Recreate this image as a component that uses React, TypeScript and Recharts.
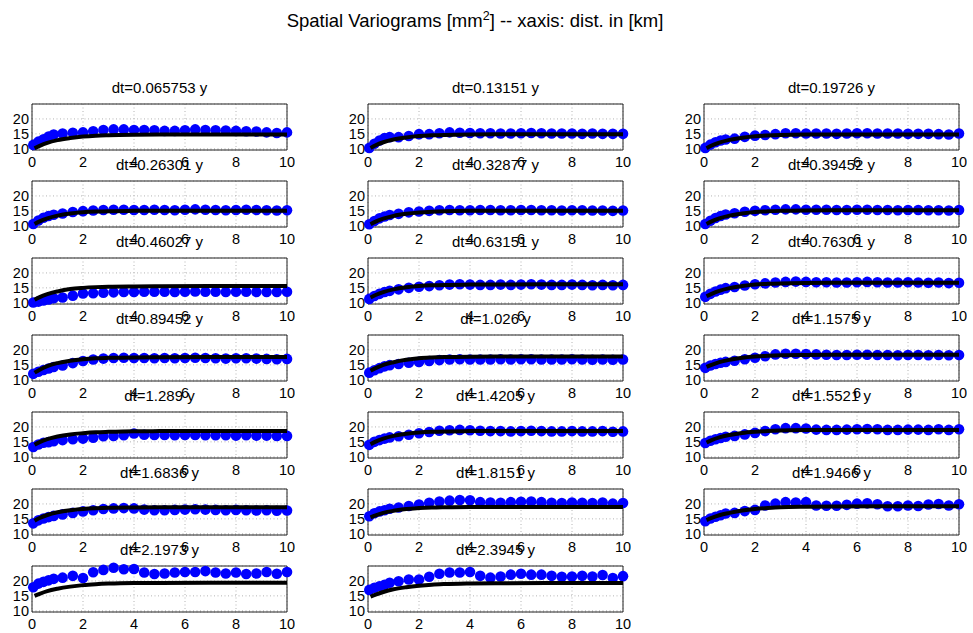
import React from 'react';
import {
  ComposedChart,
  Scatter,
  Line,
  XAxis,
  YAxis,
  CartesianGrid,
  ReferenceArea,
} from 'recharts';

// Lag distances (km) of the empirical variogram bins
const distKm = [
  0.05, 0.25, 0.45, 0.65, 0.85, 1.2, 1.6, 2.0, 2.4, 2.8, 3.2, 3.6, 4.0, 4.4,
  4.8, 5.2, 5.6, 6.0, 6.4, 6.8, 7.2, 7.6, 8.0, 8.4, 8.8, 9.2, 9.6, 10.0,
];

// Distances at which the fitted model curve is sampled
const modelDistKm = [0.1, 0.3, 0.6, 1.0, 1.5, 2.0, 2.5, 3.0, 4.0, 5.0, 7.0, 10.0];

const panelTitles = [
  'dt=0.065753 y', 'dt=0.13151 y', 'dt=0.19726 y',
  'dt=0.26301 y', 'dt=0.32877 y', 'dt=0.39452 y',
  'dt=0.46027 y', 'dt=0.63151 y', 'dt=0.76301 y',
  'dt=0.89452 y', 'dt=1.026 y', 'dt=1.1575 y',
  'dt=1.289 y', 'dt=1.4205 y', 'dt=1.5521 y',
  'dt=1.6836 y', 'dt=1.8151 y', 'dt=1.9466 y',
  'dt=2.1973 y', 'dt=2.3945 y',
];

const xTicks = [0, 2, 4, 6, 8, 10];
const yTicks = [10, 15, 20];

// Empirical semivariance [mm^2] per time lag
const g01 = [11.3, 12.4, 13.2, 14.1, 14.8, 15.1, 15.4, 15.5, 15.9, 16.3, 16.5, 16.5, 16.3, 16.3, 16.2, 16.0, 16.0, 16.2, 16.5, 16.3, 16.2, 16.1, 16.0, 15.9, 15.8, 15.5, 15.3, 15.5];
const g02 = [10.3, 11.7, 12.8, 13.6, 13.9, 13.9, 14.3, 14.9, 14.9, 15.2, 15.5, 15.4, 15.3, 15.2, 15.2, 15.1, 15.1, 15.2, 15.3, 15.2, 15.1, 15.1, 15.1, 15.0, 15.1, 15.0, 15.0, 15.0];
const g03 = [10.3, 11.4, 12.2, 12.8, 13.1, 13.4, 14.0, 14.4, 14.6, 14.9, 15.2, 15.2, 15.1, 15.1, 15.1, 15.0, 15.1, 15.2, 15.2, 15.1, 15.1, 15.1, 15.0, 15.0, 15.0, 14.9, 14.8, 15.1];
const g04 = [10.6, 11.8, 12.7, 13.3, 13.7, 14.1, 14.6, 14.9, 15.1, 15.3, 15.4, 15.4, 15.3, 15.3, 15.4, 15.3, 15.2, 15.4, 15.5, 15.4, 15.3, 15.2, 15.3, 15.4, 15.3, 15.2, 15.1, 15.2];
const g05 = [10.5, 11.6, 12.5, 13.1, 13.6, 14.0, 14.5, 14.8, 15.0, 15.2, 15.3, 15.2, 15.2, 15.3, 15.3, 15.2, 15.2, 15.3, 15.3, 15.2, 15.2, 15.1, 15.2, 15.2, 15.1, 15.1, 15.0, 15.1];
const g06 = [10.6, 11.7, 12.6, 13.3, 13.8, 14.2, 14.7, 15.0, 15.2, 15.4, 15.5, 15.5, 15.4, 15.4, 15.4, 15.3, 15.3, 15.4, 15.4, 15.3, 15.3, 15.2, 15.3, 15.3, 15.2, 15.2, 15.1, 15.3];
const g07 = [10.1, 10.4, 10.8, 11.1, 11.5, 11.8, 12.4, 13.1, 13.2, 13.4, 13.5, 13.6, 13.6, 13.7, 13.7, 13.7, 13.6, 13.7, 13.8, 13.7, 13.7, 13.6, 13.7, 13.7, 13.6, 13.6, 13.6, 13.7];
const g08 = [11.3, 12.3, 13.0, 13.6, 14.0, 14.5, 15.0, 15.4, 15.6, 15.9, 16.1, 16.2, 16.1, 16.0, 16.0, 16.1, 16.0, 16.1, 16.2, 16.1, 16.0, 16.0, 16.1, 16.0, 15.9, 16.0, 15.9, 16.0];
const g09 = [12.0, 13.0, 13.8, 14.4, 14.9, 15.3, 15.8, 16.2, 16.5, 16.8, 17.0, 17.1, 17.0, 16.9, 16.9, 16.8, 16.8, 16.9, 17.0, 16.9, 16.8, 16.8, 16.9, 16.8, 16.7, 16.8, 16.6, 16.7];
const g10 = [12.0, 12.7, 13.3, 13.8, 14.3, 14.8, 15.6, 16.3, 16.8, 17.1, 17.3, 17.4, 17.3, 17.3, 17.2, 17.3, 17.2, 17.3, 17.4, 17.3, 17.2, 17.1, 17.2, 17.2, 17.1, 17.0, 16.9, 17.0];
const g11 = [12.4, 13.2, 13.9, 14.5, 14.9, 15.3, 15.7, 16.0, 16.3, 16.6, 16.8, 16.9, 16.8, 16.8, 16.8, 16.9, 16.8, 16.9, 16.9, 16.8, 16.8, 16.8, 16.9, 16.8, 16.7, 16.8, 16.7, 16.8];
const g12 = [14.0, 14.8, 15.3, 15.7, 16.0, 16.4, 16.9, 17.4, 17.9, 18.5, 18.7, 18.7, 18.6, 18.5, 18.4, 18.3, 18.3, 18.4, 18.4, 18.3, 18.3, 18.2, 18.3, 18.3, 18.2, 18.3, 18.2, 18.3];
const g13 = [13.3, 14.1, 14.7, 14.9, 15.2, 15.6, 15.9, 16.1, 16.4, 16.9, 17.0, 17.2, 17.8, 17.4, 17.3, 17.3, 17.2, 17.3, 17.3, 17.2, 17.2, 17.2, 17.1, 17.2, 17.1, 17.1, 17.0, 17.0];
const g14 = [14.0, 15.0, 15.6, 16.1, 16.5, 16.9, 17.4, 17.9, 18.3, 18.7, 18.9, 19.0, 18.9, 18.7, 18.6, 18.6, 18.5, 18.6, 18.7, 18.6, 18.5, 18.5, 18.6, 18.5, 18.5, 18.6, 18.4, 18.5];
const g15 = [14.6, 15.4, 15.9, 16.3, 16.7, 17.0, 17.5, 18.0, 18.6, 19.2, 19.6, 19.6, 19.5, 19.1, 19.0, 19.0, 19.1, 19.2, 19.3, 19.2, 19.0, 19.0, 19.1, 19.1, 19.0, 19.2, 19.0, 19.2];
const g16 = [13.5, 14.5, 15.1, 15.6, 16.0, 16.5, 17.0, 17.5, 17.9, 18.3, 18.5, 18.6, 18.5, 18.1, 17.9, 17.9, 18.0, 18.1, 18.2, 18.1, 18.0, 17.9, 18.0, 17.9, 17.8, 17.9, 17.7, 17.8];
const g17 = [15.9, 16.9, 17.5, 17.9, 18.4, 18.8, 19.3, 19.8, 20.4, 20.8, 21.1, 21.3, 21.2, 20.6, 20.5, 20.4, 20.6, 20.7, 20.8, 20.6, 20.4, 20.3, 20.5, 20.4, 20.3, 20.5, 20.1, 20.3];
const g18 = [14.2, 15.1, 15.7, 16.2, 16.8, 17.0, 17.6, 18.0, 19.5, 20.1, 20.6, 20.5, 20.6, 19.5, 19.4, 19.4, 19.7, 20.1, 20.2, 19.9, 19.2, 19.2, 19.5, 19.3, 19.8, 20.0, 19.5, 19.9];
const g19 = [17.9, 19.1, 19.7, 20.2, 20.7, 21.1, 21.7, 21.0, 22.9, 23.7, 24.4, 23.9, 24.0, 22.8, 22.3, 22.5, 22.8, 23.0, 23.0, 23.3, 22.8, 22.5, 22.8, 22.3, 22.5, 23.0, 22.4, 23.0];
const g20 = [17.0, 17.7, 18.2, 18.7, 19.4, 19.9, 20.5, 20.5, 21.4, 22.4, 22.8, 22.8, 23.0, 21.7, 21.1, 21.5, 22.1, 22.4, 22.1, 22.1, 21.7, 21.4, 21.5, 21.7, 21.5, 22.0, 21.0, 21.6];

// Fitted variogram model, sampled at modelDistKm
const m01 = [10.2, 11.0, 12.0, 12.9, 13.6, 14.1, 14.4, 14.55, 14.7, 14.75, 14.75, 14.75];
const m02 = [10.3, 11.2, 12.2, 13.1, 13.8, 14.25, 14.5, 14.65, 14.8, 14.85, 14.85, 14.85];
const m03 = [10.2, 11.1, 12.1, 13.0, 13.7, 14.2, 14.45, 14.6, 14.75, 14.8, 14.8, 14.8];
const m04 = [10.6, 11.5, 12.5, 13.4, 14.1, 14.5, 14.75, 14.9, 15.0, 15.05, 15.05, 15.05];
const m05 = [10.5, 11.4, 12.4, 13.3, 14.0, 14.45, 14.7, 14.85, 15.0, 15.05, 15.05, 15.05];
const m06 = [10.6, 11.5, 12.5, 13.4, 14.1, 14.6, 14.85, 15.0, 15.15, 15.2, 15.2, 15.2];
const m07 = [11.0, 11.9, 12.9, 13.8, 14.6, 15.0, 15.25, 15.4, 15.5, 15.55, 15.6, 15.6];
const m08 = [11.8, 12.6, 13.6, 14.5, 15.2, 15.6, 15.85, 16.0, 16.1, 16.15, 16.2, 16.2];
const m09 = [12.2, 13.0, 14.0, 14.9, 15.6, 16.1, 16.35, 16.5, 16.65, 16.7, 16.7, 16.7];
const m10 = [12.4, 13.4, 14.6, 15.6, 16.4, 16.9, 17.2, 17.35, 17.5, 17.55, 17.6, 17.6];
const m11 = [13.0, 13.9, 15.0, 15.9, 16.7, 17.2, 17.45, 17.6, 17.75, 17.8, 17.8, 17.8];
const m12 = [14.3, 15.0, 15.9, 16.7, 17.4, 17.8, 18.05, 18.2, 18.3, 18.35, 18.35, 18.35];
const m13 = [14.0, 14.9, 15.9, 16.8, 17.5, 17.9, 18.2, 18.35, 18.55, 18.6, 18.65, 18.65];
const m14 = [14.2, 15.1, 16.1, 17.0, 17.7, 18.1, 18.35, 18.5, 18.6, 18.65, 18.65, 18.65];
const m15 = [14.8, 15.6, 16.5, 17.3, 18.0, 18.4, 18.65, 18.8, 18.95, 19.0, 19.0, 19.0];
const m16 = [14.4, 15.3, 16.3, 17.2, 17.9, 18.3, 18.55, 18.7, 18.8, 18.85, 18.85, 18.85];
const m17 = [15.5, 16.2, 17.0, 17.7, 18.3, 18.6, 18.8, 18.9, 19.0, 19.0, 19.0, 19.0];
const m18 = [14.6, 15.3, 16.2, 17.0, 17.8, 18.3, 18.6, 18.85, 19.05, 19.15, 19.2, 19.2];
const m19 = [15.0, 15.7, 16.6, 17.4, 18.1, 18.6, 18.9, 19.1, 19.3, 19.35, 19.4, 19.4];
const m20 = [14.7, 15.4, 16.3, 17.2, 17.9, 18.4, 18.75, 18.95, 19.15, 19.25, 19.3, 19.3];

const empirical = [g01, g02, g03, g04, g05, g06, g07, g08, g09, g10, g11, g12, g13, g14, g15, g16, g17, g18, g19, g20];
const model = [m01, m02, m03, m04, m05, m06, m07, m08, m09, m10, m11, m12, m13, m14, m15, m16, m17, m18, m19, m20];

// Figure layout (pixels)
const FIG_W = 973;
const FIG_H = 633;
const COL_LEFT = [32, 368, 704];
const ROW_TOP = [104, 181, 258, 335, 412, 489, 566];
const PLOT_W = 255;
const PLOT_H = 46;
const Y_AXIS_W = 40;
const X_AXIS_H = 26;
const PAD_T = 6;
const PAD_R = 8;
const Y_DOMAIN: [number, number] = [9.6, 25];
const FONT = '"Liberation Sans", Arial, Helvetica, sans-serif';

const Dot = (props: any) => {
  const { cx, cy } = props;
  if (cx == null || cy == null) return null;
  return <circle cx={cx} cy={cy} r={5.3} fill="#0000ff" />;
};

function Panel({ idx }: { idx: number }) {
  const row = Math.floor(idx / 3);
  const col = idx % 3;
  const pts = distKm.map((d, i) => ({ d, g: empirical[idx][i] }));
  const fit = modelDistKm.map((d, i) => ({ d, m: model[idx][i] }));
  return (
    <div
      style={{
        position: 'absolute',
        left: COL_LEFT[col] - Y_AXIS_W,
        top: ROW_TOP[row] - PAD_T,
      }}
    >
      <ComposedChart
        width={Y_AXIS_W + PLOT_W + PAD_R}
        height={PAD_T + PLOT_H + X_AXIS_H}
        margin={{ top: PAD_T, right: PAD_R, bottom: 0, left: 0 }}
      >
        <CartesianGrid stroke="#b4b4b4" strokeDasharray="1 2.5" />
        <XAxis
          type="number"
          dataKey="d"
          domain={[0, 10]}
          ticks={xTicks}
          interval={0}
          height={X_AXIS_H}
          tickLine={false}
          axisLine={false}
          tickSize={0}
          tickMargin={6.5}
          tick={{ fontSize: 14.5, fill: '#000', fontFamily: FONT }}
        />
        <YAxis
          type="number"
          domain={Y_DOMAIN}
          ticks={yTicks}
          interval={0}
          width={Y_AXIS_W}
          tickLine={false}
          axisLine={false}
          tickSize={0}
          tickMargin={3}
          tick={{ fontSize: 14.5, fill: '#000', fontFamily: FONT }}
        />
        <ReferenceArea
          x1={0}
          x2={10}
          y1={Y_DOMAIN[0]}
          y2={Y_DOMAIN[1]}
          fill="none"
          stroke="#222"
          strokeWidth={1}
          ifOverflow="visible"
        />
        <Scatter
          data={pts}
          dataKey="g"
          shape={<Dot />}
          isAnimationActive={false}
          zIndex={400}
        />
        <Line
          data={fit}
          dataKey="m"
          type="monotone"
          stroke="#000"
          strokeWidth={4}
          dot={false}
          activeDot={false}
          isAnimationActive={false}
          zIndex={700}
        />
      </ComposedChart>
    </div>
  );
}

export default function App() {
  return (
    <div
      style={{
        position: 'absolute',
        left: 0,
        top: 0,
        width: FIG_W,
        height: FIG_H,
        background: '#fff',
        overflow: 'hidden',
      }}
    >
      {panelTitles.map((_, i) => (
        <Panel key={i} idx={i} />
      ))}
      <svg
        width={FIG_W}
        height={FIG_H}
        style={{ position: 'absolute', left: 0, top: 0, pointerEvents: 'none' }}
        fontFamily={FONT}
      >
        <text x={475} y={27} textAnchor="middle" fontSize={18.5} fill="#000">
          Spatial Variograms [mm
          <tspan dy={-7} fontSize={12.5}>2</tspan>
          <tspan dy={7}>] -- xaxis: dist. in [km]</tspan>
        </text>
        {panelTitles.map((t, i) => {
          const row = Math.floor(i / 3);
          const col = i % 3;
          return (
            <text
              key={t}
              x={COL_LEFT[col] + PLOT_W / 2}
              y={ROW_TOP[row] - 10.7}
              textAnchor="middle"
              fontSize={15}
              fill="#000"
            >
              {t}
            </text>
          );
        })}
      </svg>
    </div>
  );
}
